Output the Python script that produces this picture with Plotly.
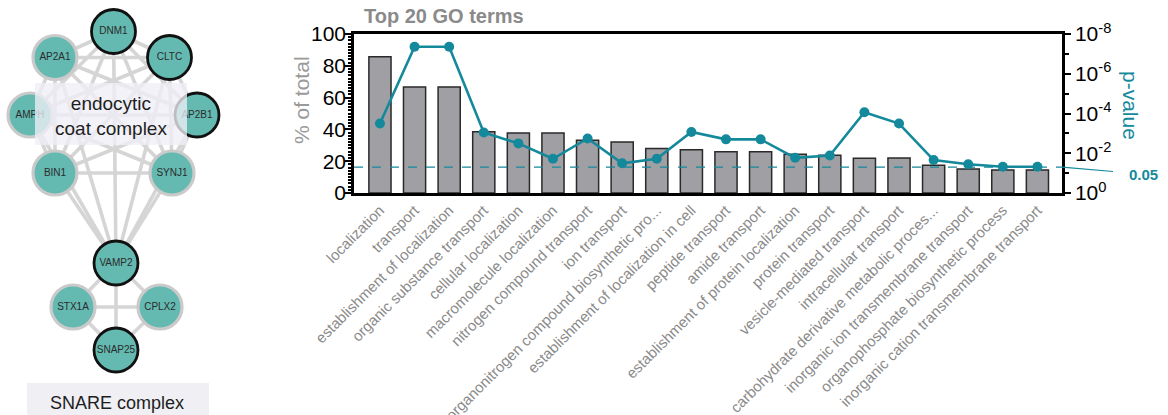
import math
import plotly.graph_objects as go

W, H = 1168, 415
FONT = "Liberation Sans, Arial, sans-serif"
TEAL = "#14899b"
NODE_FILL = "#64b9b1"

# ---------------- GO enrichment data ----------------
terms = [
    "localization",
    "transport",
    "establishment of localization",
    "organic substance transport",
    "cellular localization",
    "macromolecule localization",
    "nitrogen compound transport",
    "ion transport",
    "organonitrogen compound biosynthetic pro...",
    "establishment of localization in cell",
    "peptide transport",
    "amide transport",
    "establishment of protein localization",
    "protein transport",
    "vesicle-mediated transport",
    "intracellular transport",
    "carbohydrate derivative metabolic proces...",
    "inorganic ion transmembrane transport",
    "organophosphate biosynthetic process",
    "inorganic cation transmembrane transport",
]
pct_total = [85.7, 66.6, 66.6, 38.5, 37.8, 37.8, 33.2, 32.0, 28.0, 27.2,
             26.0, 26.0, 24.3, 23.7, 21.8, 22.0, 17.4, 15.1, 14.5, 14.5]
p_values = [3.2e-4, 4.4e-8, 4.4e-8, 9.1e-4, 3.2e-3, 1.9e-2, 1.8e-3, 3.2e-2, 1.9e-2, 8.5e-4,
            2.0e-3, 2.0e-3, 1.7e-2, 1.3e-2, 8.7e-5, 3.2e-4, 2.2e-2, 3.6e-2, 4.8e-2, 4.8e-2]
p_cutoff = 0.05

left_ticks = [0, 20, 40, 60, 80, 100]
right_ticks = [1, 1e-2, 1e-4, 1e-6, 1e-8]
right_ticktext = ["10<sup>0</sup>", "10<sup>-2</sup>", "10<sup>-4</sup>",
                  "10<sup>-6</sup>", "10<sup>-8</sup>"]
right_minor = [1e-1, 1e-3, 1e-5, 1e-7]

# ---------------- protein interaction network ----------------
node_names = ["DNM1", "AP2A1", "CLTC", "AMPH", "AP2B1", "BIN1", "SYNJ1",
              "VAMP2", "STX1A", "CPLX2", "SNAP25"]
node_x = [113.5, 55, 169.5, 30, 197, 55, 172, 116, 73, 160, 116]
node_y = [31.5, 57.5, 57.5, 115, 115, 173, 173, 263, 307, 307, 350]
highlighted = {"DNM1", "CLTC", "AP2B1", "VAMP2", "SNAP25"}

endocytic = ["DNM1", "AP2A1", "CLTC", "AMPH", "AP2B1", "BIN1", "SYNJ1"]
snare = ["VAMP2", "STX1A", "CPLX2", "SNAP25"]
edges = []
for group in (endocytic, snare):
    for i in range(len(group)):
        for j in range(i + 1, len(group)):
            edges.append((group[i], group[j]))
for n in endocytic:
    edges.append((n, "VAMP2"))

pos = {n: (x, y) for n, x, y in zip(node_names, node_x, node_y)}
ex, ey = [], []
for a, b in edges:
    ex += [pos[a][0], pos[b][0], None]
    ey += [pos[a][1], pos[b][1], None]

fig = go.Figure()

fig.add_trace(go.Scatter(
    x=ex, y=ey, mode="lines", xaxis="x3", yaxis="y3",
    line=dict(color="#d5d5d5", width=3.6), hoverinfo="skip", showlegend=False,
    cliponaxis=False,
))
fig.add_trace(go.Scatter(
    x=node_x, y=node_y, mode="markers+text", xaxis="x3", yaxis="y3",
    text=node_names, textposition="middle center",
    textfont=dict(family=FONT, size=10, color="#2b2b2b"),
    marker=dict(size=44, color=NODE_FILL,
                line=dict(width=[2.8 if n in highlighted else 3.2 for n in node_names],
                          color=["#111111" if n in highlighted else "#cacaca" for n in node_names])),
    showlegend=False, cliponaxis=False,
))

# bars: % of total
fig.add_trace(go.Bar(
    x=list(range(len(terms))), y=pct_total, xaxis="x", yaxis="y",
    width=0.64, marker=dict(color="#a09fa4", line=dict(color="#2a2a2a", width=1.5)),
    showlegend=False,
))
# significance threshold
fig.add_trace(go.Scatter(
    x=[-0.75, 19.71], y=[p_cutoff, p_cutoff], mode="lines", xaxis="x", yaxis="y2",
    line=dict(color=TEAL, width=1.3, dash="dash"), showlegend=False,
))
# p-value line
fig.add_trace(go.Scatter(
    x=list(range(len(terms))), y=p_values, mode="lines+markers", xaxis="x", yaxis="y2",
    line=dict(color=TEAL, width=2.6), marker=dict(size=10, color=TEAL),
    showlegend=False,
))

x_dom = [354 / W, 1062 / W]
y_dom = [1 - 193 / H, 1 - 34 / H]

fig.update_layout(
    width=W, height=H, margin=dict(l=0, r=0, t=0, b=0, autoexpand=False),
    paper_bgcolor="white", plot_bgcolor="rgba(0,0,0,0)",
    font=dict(family=FONT, color="black"),
    bargap=0.3,
    xaxis=dict(
        domain=x_dom, range=[-0.75, 19.71], anchor="y", automargin=False,
        tickmode="array", tickvals=list(range(len(terms))), ticktext=terms,
        tickangle=-45, tickfont=dict(family=FONT, size=15, color="#8a8a8a"),
        showline=True, linecolor="black", linewidth=2.5, mirror=True,
        ticks="", showgrid=False, zeroline=False,
    ),
    yaxis=dict(
        domain=y_dom, range=[0, 100], anchor="x", automargin=False,
        tickmode="array", tickvals=left_ticks,
        ticks="outside", ticklen=6, tickwidth=2, tickcolor="black",
        ticklabelstandoff=-5,
        minor=dict(tick0=0, dtick=2, ticks="outside", ticklen=3, tickwidth=1.5,
                   tickcolor="black", showgrid=False),
        showline=True, linecolor="black", linewidth=2.5,
        showgrid=False, zeroline=False,
        tickfont=dict(family=FONT, size=21, color="black"),
    ),
    yaxis2=dict(
        overlaying="y", side="right", anchor="x", type="log", range=[0, -8],
        automargin=False,
        tickmode="array", tickvals=right_ticks, ticktext=right_ticktext,
        ticks="outside", ticklen=6, tickwidth=2, tickcolor="black",
        minor=dict(tickvals=right_minor, ticks="outside", ticklen=4, tickwidth=1.5,
                   tickcolor="black", showgrid=False),
        showline=True, linecolor="black", linewidth=2.5,
        showgrid=False, zeroline=False,
        tickfont=dict(family=FONT, size=21, color="black"),
    ),
    xaxis3=dict(domain=[0, 240 / W], range=[0, 240], anchor="y3", visible=False,
                fixedrange=True, automargin=False),
    yaxis3=dict(domain=[0, 1], range=[H, 0], anchor="x3", visible=False,
                fixedrange=True, automargin=False),
)

fig.add_shape(type="rect", xref="x3", yref="y3", x0=35, x1=187, y0=83, y1=145,
              fillcolor="rgba(238,238,246,0.78)", line=dict(width=0), layer="above")
fig.add_shape(type="rect", xref="x3", yref="y3", x0=27, x1=209, y0=383, y1=420,
              fillcolor="#efeff4", line=dict(width=0), layer="below")

def px_ann(x, y, text, xanchor="center", **kw):
    fig.add_annotation(x=x / W, y=1 - y / H, xref="paper", yref="paper",
                       xanchor=xanchor, yanchor="middle",
                       text=text, showarrow=False, **kw)

px_ann(111, 116, "endocytic<br>coat complex",
       font=dict(family=FONT, size=19, color="#1e1e1e"), align="center")
px_ann(117, 403, "SNARE complex", font=dict(family=FONT, size=18, color="#1e1e1e"))
px_ann(362, 16, "<b>Top 20 GO terms</b>", xanchor="left",
       font=dict(family=FONT, size=20, color="#8a8a8a"))
px_ann(301, 100, "% of total", textangle=-90,
       font=dict(family=FONT, size=21, color="#9a9a9a"))
px_ann(1131, 105, "p-value", textangle=90,
       font=dict(family=FONT, size=21, color=TEAL))

fig.add_annotation(
    x=19.71, y=math.log10(p_cutoff), xref="x", yref="y2",
    text="<b>0.05</b>", showarrow=True, arrowhead=0, arrowwidth=1.1,
    arrowcolor=TEAL, ax=81, ay=7, startstandoff=14,
    font=dict(family=FONT, size=15, color=TEAL),
)

fig.write_html("out.html")
